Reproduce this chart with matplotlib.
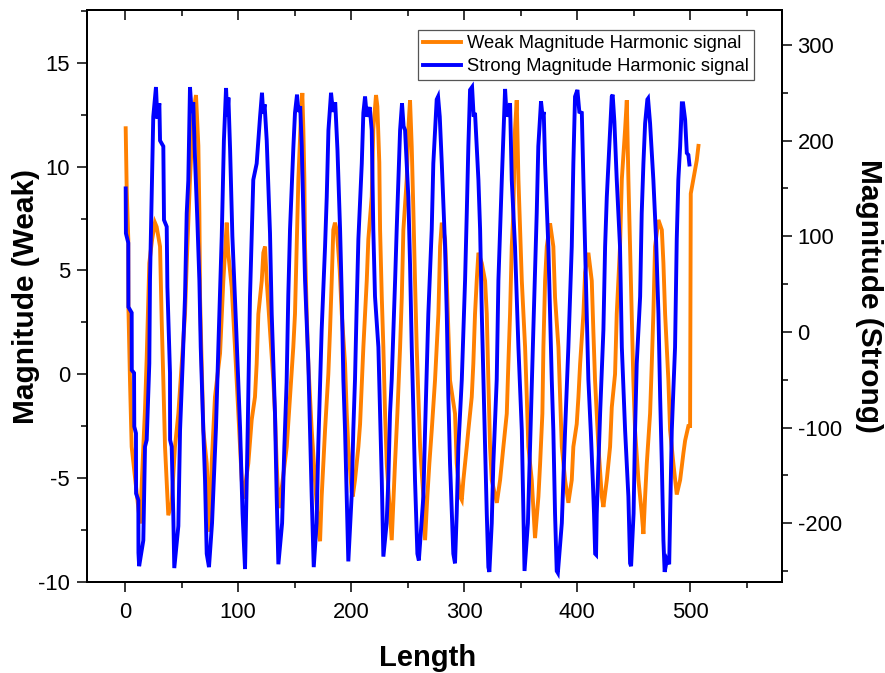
import matplotlib
matplotlib.use("Agg")
import matplotlib.pyplot as plt
from matplotlib.ticker import MultipleLocator

plt.rcParams['font.family'] = ['Liberation Sans', 'DejaVu Sans']
plt.rcParams['axes.unicode_minus'] = False

# Weak signal (left axis), vertices
weak_x = [0.6, 1.5, 2.9, 3.0, 4.4, 5.9, 10.3, 13.3,
          14.7, 16.2, 17.7, 19.2, 21.5, 24.0, 26.5, 28.0,
          31.0, 32.5, 33.9, 35.4, 38.3,
          41.3, 44.2, 47.2, 50.2, 53.1, 54.6, 57.5, 60.4, 62.8,
          64.9, 65.8, 66.4, 67.9, 69.3, 72.3, 75.3,
          76.7, 79.6, 84.1, 87.0, 90.0,
          91.4, 94.4, 97.3, 100.3, 101.8, 103.3, 104.7,
          109.1, 112.1, 115.0, 116.5, 118.0, 121.0, 122.4, 123.9,
          125.4, 128.3, 131.2, 132.7, 134.2, 135.7, 136.5,
          143.1, 146.0, 148.9, 150.4, 151.9, 153.4, 155.8, 156.9,
          157.8, 158.7, 159.3, 160.8, 162.2, 165.2, 168.1, 171.1, 172.6,
          174.0, 175.5, 177.0, 179.9, 181.4, 182.9, 184.3, 185.8,
          187.5, 190.0, 191.8, 194.7, 196.2, 197.6, 200.6, 201.5,
          203.5, 206.5, 208.0, 210.9, 212.4, 213.9, 215.3, 218.3, 219.7, 222.1,
          223.3, 225.0, 225.7, 227.2, 228.6, 230.1, 231.6, 234.5, 236.0,
          237.4, 238.9, 241.0, 243.4, 244.9, 246.3, 249.3, 250.7, 252.2,
          253.7, 255.2, 256.6, 258.1, 259.6, 261.1, 264.0, 265.5,
          267.5, 269.3, 271.4, 274.3, 275.8, 277.3, 278.8, 280.3,
          283.2, 284.7, 286.1, 287.6, 292.0, 293.5, 296.5, 298.0,
          299.4, 302.4, 303.8, 306.8, 308.2, 309.7, 311.2, 312.7,
          315.7, 318.6, 320.1, 321.5, 323.0, 324.5, 329.0,
          331.9, 334.8, 337.8, 339.2, 340.7, 342.2, 343.6, 345.1, 346.6,
          348.1, 349.6, 351.1, 354.0, 355.5, 356.9, 359.9, 362.8,
          365.8, 367.3, 369.3, 370.2, 371.7, 373.2, 376.1,
          379.0, 380.5, 383.5, 385.0, 386.5, 389.4, 392.3,
          395.3, 396.7, 399.7, 401.2, 402.7, 405.6, 407.1, 410.0,
          413.0, 414.4, 415.9, 417.4, 418.9, 421.9, 423.3,
          426.3, 429.2, 430.7, 433.6, 435.1, 438.0, 439.6, 442.5, 444.0,
          445.4, 446.9, 448.4, 449.8, 451.3, 454.3, 457.2, 458.7,
          460.2, 461.7, 464.6, 466.1, 467.5, 469.0, 472.0,
          475.0, 476.4, 477.9, 480.8, 482.3, 485.2, 488.2,
          491.2, 494.1, 495.6, 498.5, 500.0, 500.6, 502.9, 505.9, 507.4]
weak_v = [11.85, 8.9, 6.5, 3.25, -0.3, -3.5, -5.7, -7.2,
          -5.4, -3.5, -1.7, 0.8, 5.35, 6.5, 7.3, 7.1,
          6.15, 2.5, -0.3, -3.5, -6.8,
          -6.2, -3.5, -1.9, 0.5, 2.9, 5.35, 9.4, 12.6, 13.45,
          11.0, 7.75, 3.7, 0.4, -2.7, -4.3, -7.6,
          -4.3, -1.1, 1.0, 4.5, 7.3,
          5.8, 4.2, 1.3, -1.9, -3.5, -5.1, -6.0,
          -4.3, -2.2, -1.1, 0.5, 2.9, 4.5, 5.85, 6.15,
          4.5, 2.1, -0.3, -1.9, -4.3, -6.2, -6.45,
          -3.5, -1.1, 1.3, 2.9, 6.15, 9.4, 12.6, 13.55,
          11.8, 9.4, 6.15, 2.9, 0.5, -2.7, -5.1, -7.5, -8.05,
          -5.9, -4.3, -2.7, 0.0, 2.1, 4.5, 6.95, 7.3,
          6.9, 5.0, 2.9, 0.5, -1.9, -3.5, -5.7, -5.9,
          -5.1, -3.5, -2.4, 1.3, 2.9, 4.5, 6.5, 8.55, 11.8, 13.45,
          12.9, 10.2, 6.95, 3.7, 1.3, -1.9, -4.3, -6.7, -8.0,
          -6.2, -4.3, -1.9, 1.3, 3.7, 6.95, 9.4, 11.8, 13.2,
          10.96, 7.75, 4.5, 1.3, -1.1, -3.5, -5.9, -8.0,
          -5.9, -4.3, -2.7, -0.3, 1.3, 2.9, 6.15, 7.3,
          6.5, 4.5, 2.1, -0.3, -1.9, -4.3, -5.9, -6.06,
          -5.1, -3.5, -2.7, -1.1, 0.5, 2.9, 4.5, 5.85,
          5.35, 4.5, 2.9, -0.3, -3.5, -5.1, -6.2,
          -5.1, -3.5, -1.9, 0.5, 2.9, 6.15, 7.75, 11.8, 13.2,
          9.4, 6.95, 4.5, 1.3, -1.1, -3.5, -5.1, -7.9,
          -5.9, -4.3, -1.9, 1.3, 4.5, 6.15, 7.27,
          6.15, 3.7, 1.3, -1.1, -3.5, -5.1, -6.2,
          -5.1, -3.5, -2.4, -1.1, 0.5, 2.9, 4.9, 5.85,
          4.5, 2.1, -0.3, -1.9, -3.5, -5.9, -6.4,
          -5.1, -3.5, -1.6, 0.0, 2.9, 6.15, 9.4, 11.8, 13.2,
          9.4, 6.15, 2.9, -0.3, -2.7, -5.1, -6.7, -7.7,
          -5.9, -4.3, -1.9, 0.5, 2.9, 6.15, 7.43,
          6.95, 5.35, 2.9, -0.3, -2.7, -4.3, -5.8,
          -5.1, -3.8, -3.2, -2.5, -2.5, 8.7, 9.4, 10.3, 11.0]

# Strong signal (right axis)
strong_x = [0.6, 0.8, 2.9, 3.0, 5.9, 6.0, 8.0, 8.2, 9.7, 9.8, 11.8, 11.9, 12.5,
            16.2, 17.7, 19.2, 21.5, 22.1, 23.6, 25.0, 27.4, 28.6, 30.4, 31.0, 33.9, 34.5,
            36.9, 37.5, 39.8, 39.9, 41.3, 42.7, 43.6,
            47.2, 48.7, 51.0, 53.1, 54.6, 56.0, 57.5, 59.0, 60.4, 62.0, 64.0, 65.8, 67.0,
            69.3, 70.8, 72.3, 74.3,
            77.0, 80.5, 83.0, 85.6, 87.5, 89.4, 90.5, 91.5, 93.0, 95.0, 98.5, 101.8, 104.0, 106.2,
            108.6, 110.6, 113.5, 116.5, 119.5, 121.2, 122.3, 123.5, 125.4, 128.3, 129.8, 132.7,
            134.2, 135.7,
            139.0, 141.0, 143.0, 144.5, 146.0, 149.0, 150.4, 152.2, 153.5, 155.0, 156.4, 157.8,
            159.3, 162.2, 163.7, 165.2, 166.6, 167.0,
            169.5, 171.0, 174.0, 177.0, 178.5, 180.0, 182.3, 184.0, 186.0, 188.0, 190.3, 191.8,
            193.2, 194.7, 196.2, 197.6,
            200.6, 202.0, 203.5, 205.0, 206.5, 209.5, 210.9, 212.4, 214.0, 216.5, 218.3, 219.7,
            221.2, 224.2, 225.7, 227.2, 228.6,
            231.5, 233.0, 234.5, 236.0, 239.0, 240.4, 241.9, 243.4, 245.1, 246.5, 247.8, 250.7,
            252.2, 253.7, 255.2, 256.6, 258.7, 260.0,
            264.0, 265.5, 268.4, 271.4, 272.8, 275.8, 277.0, 278.5, 280.3, 283.2, 284.7, 286.1,
            287.6, 290.5, 292.0,
            293.5, 295.0, 298.0, 300.9, 302.4, 303.8, 305.3, 307.1, 308.5, 309.7, 312.7, 314.2,
            315.7, 317.1, 318.6, 320.1, 321.5, 322.4,
            324.5, 325.9, 328.9, 330.4, 333.4, 336.3, 337.7, 340.7, 342.2, 345.1, 348.1, 351.1,
            352.5, 353.5,
            356.5, 358.4, 361.3, 364.3, 365.7, 368.1, 369.5, 370.5, 371.7, 374.6, 376.1, 377.6,
            379.0, 380.5, 382.0, 383.0,
            386.5, 389.4, 392.3, 395.3, 396.7, 398.2, 400.3, 402.0, 404.2, 405.6, 407.1, 408.6,
            410.0, 412.1, 413.9, 415.0, 416.0, 416.8,
            417.4, 420.4, 423.3, 424.8, 426.3, 429.2, 430.7, 431.5, 433.0, 435.1, 438.0, 439.6,
            442.5, 445.4, 446.9, 447.8,
            450.0, 451.3, 452.8, 455.8, 457.2, 458.7, 460.2, 462.2, 462.8, 464.6, 467.5, 469.9,
            472.0, 473.5, 475.0, 476.4, 477.5, 479.5, 481.5,
            483.8, 486.7, 488.2, 489.6, 491.2, 492.7, 493.8, 495.6, 497.1, 498.5, 499.4]
strong_v = [150, 103, 93, 26, 20, -40, -43, -99, -106, -169, -176, -231, -245,
            -218, -120, -113, -33, 54, 141, 225, 256, 223, 239, 200, 194, 117,
            110, 47, -43, -113, -120, -190, -247,
            -203, -103, -33, 37, 124, 158, 256, 229, 240, 179, 117, 54, -16,
            -103, -155, -232, -246,
            -200, -100, 0, 100, 200, 255, 225, 245, 190, 100, 0, -100, -190, -248,
            -100, 37, 159, 176, 225, 250, 228, 238, 200, 103, 19, -85,
            -172, -243,
            -200, -120, -53, 39, 107, 194, 229, 248, 230, 236, 194, 124,
            54, -33, -103, -172, -231, -246,
            -200, -120, 2, 89, 141, 211, 250, 230, 240, 190, 107, 37,
            -50, -103, -172, -240,
            -170, -103, -50, 27, 97, 176, 229, 246, 225, 235, 211, 107,
            37, -16, -85, -155, -235,
            -200, -155, -85, -50, 54, 107, 159, 211, 239, 215, 211, 141,
            71, -16, -85, -155, -232, -239,
            -172, -103, 19, 107, 176, 243, 246, 225, 176, 89, 19, -68,
            -138, -232, -242,
            -190, -120, -50, 54, 124, 194, 253, 256, 225, 229, 159, 107,
            19, -50, -120, -190, -246, -251,
            -200, -138, -50, 54, 159, 254, 225, 239, 159, 89, -16, -103,
            -190, -250,
            -200, -120, 2, 124, 194, 241, 225, 230, 176, 89, 19, -50,
            -103, -190, -250, -252,
            -200, -103, -16, 89, 176, 246, 253, 230, 229, 159, 89, 19,
            -50, -103, -155, -190, -232, -233,
            -190, -85, 2, 89, 141, 211, 246, 248, 220, 159, 89, -16,
            -103, -172, -242, -245,
            -190, -103, -33, 37, 124, 176, 218, 243, 244, 218, 159, 97,
            19, -68, -138, -218, -251, -238, -243,
            -103, -16, 97, 159, 194, 239, 239, 222, 187, 185, 175]

x_ticks = [0, 100, 200, 300, 400, 500]
weak_ticks = [-10, -5, 0, 5, 10, 15]
strong_ticks = [-200, -100, 0, 100, 200, 300]

orange = '#FF8000'
blue = '#0000FF'

fig = plt.figure(figsize=(8.85, 6.73), dpi=100)
ax = fig.add_axes([0.0986, 0.1357, 0.7846, 0.8495])
ax2 = ax.twinx()

l1, = ax.plot(weak_x, weak_v, color=orange, linewidth=2.8, solid_joinstyle='miter')
l2, = ax2.plot(strong_x, strong_v, color=blue, linewidth=2.8, solid_joinstyle='miter')

ax.set_xlim(-33.4, 581)
ax.set_ylim(-10, 17.55)
ax2.set_ylim(-261.2, 336.6)

ax.set_xticks(x_ticks)
ax.xaxis.set_minor_locator(MultipleLocator(50))
ax.set_yticks(weak_ticks)
ax.yaxis.set_minor_locator(MultipleLocator(2.5))
ax2.set_yticks(strong_ticks)
ax2.yaxis.set_minor_locator(MultipleLocator(50))

for a in (ax, ax2):
    for s in a.spines.values():
        s.set_linewidth(1.4)

ax.tick_params(axis='both', which='major', direction='out', length=7.5, width=1.1,
               labelsize=15.8, pad=5)
ax.tick_params(axis='both', which='minor', direction='out', length=4.5, width=1.1)
ax.tick_params(axis='x', pad=7)
ax2.tick_params(axis='y', which='major', direction='out', length=7.5, width=1.1,
                labelsize=15.8, pad=4)
ax2.tick_params(axis='y', which='minor', direction='out', length=4.5, width=1.1)

# top axis: same ticks pointing inward, no labels
top = ax.secondary_xaxis('top')
top.set_xticks(x_ticks)
top.xaxis.set_minor_locator(MultipleLocator(50))
top.tick_params(which='major', direction='in', length=7.5, width=1.1, labeltop=False)
top.tick_params(which='minor', direction='in', length=4.5, width=1.1)
top.spines['top'].set_linewidth(1.4)

fig.text(0.483, 0.023, 'Length', fontsize=21, fontweight='bold', ha='center', va='center')
fig.text(0.029, 0.56, 'Magnitude (Weak)', fontsize=21.5, fontweight='bold',
         rotation=90, ha='center', va='center')
fig.text(0.982, 0.56, 'Magnitude (Strong)', fontsize=21.5, fontweight='bold',
         rotation=270, ha='center', va='center')

leg = ax2.legend([l1, l2], ['Weak Magnitude Harmonic signal', 'Strong Magnitude Harmonic signal'],
                 loc='upper right', bbox_to_anchor=(0.960, 0.965), borderaxespad=0,
                 fontsize=13.2, frameon=True, fancybox=False, framealpha=1,
                 handlelength=2.1, handletextpad=0.3, labelspacing=0.32, borderpad=0.28)
leg.get_frame().set_edgecolor('#555555')
leg.get_frame().set_linewidth(0.9)

fig.savefig('out.png', dpi=100)
